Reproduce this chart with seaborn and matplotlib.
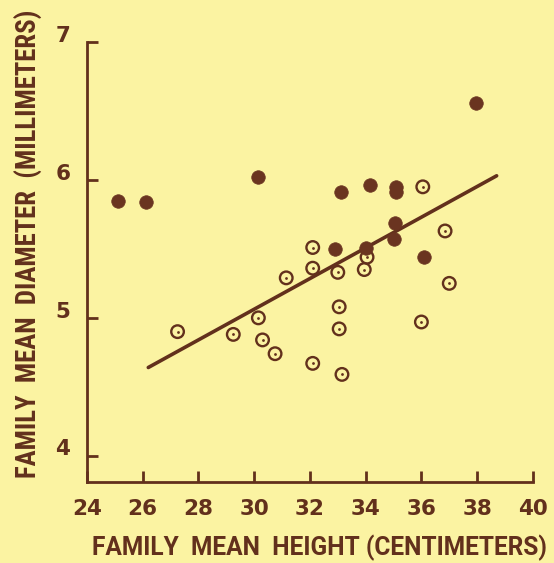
import matplotlib
matplotlib.use("Agg")
import matplotlib.pyplot as plt
import matplotlib.transforms as mtransforms
import seaborn as sns
import pandas as pd

# Family means: filled and open (dotted-circle) families
filled_height = [25.1, 26.1, 30.15, 32.9, 33.1, 34.0, 34.15, 35.0, 35.1, 35.1, 35.05, 36.1, 37.95]
filled_diam = [5.85, 5.84, 6.02, 5.50, 5.91, 5.51, 5.96, 5.57, 5.95, 5.91, 5.69, 5.44, 6.56]

open_height = [27.25, 29.25, 30.15, 30.3, 30.75, 31.15, 32.1, 32.1, 32.1, 33.0,
               33.05, 33.05, 33.15, 33.95, 34.05, 36.0, 36.05, 36.85, 37.0]
open_diam = [4.90, 4.88, 5.00, 4.84, 4.74, 5.29, 5.51, 5.36, 4.67, 5.33,
             5.08, 4.92, 4.59, 5.35, 5.44, 4.97, 5.95, 5.63, 5.25]

# Fitted trend line
trend_height = [26.2, 38.7]
trend_diam = [4.64, 6.03]

x_ticks = [24, 26, 28, 30, 32, 34, 36, 38, 40]
y_ticks = [4, 5, 6, 7]

BG = "#FBF3A2"
INK = "#62301C"
DOT = "#6A3420"

sns.set_style("ticks", {"axes.facecolor": BG, "figure.facecolor": BG})
plt.rcParams["font.family"] = ["Roboto Condensed", "DejaVu Sans"]

fig = plt.figure(figsize=(5.54, 5.63), dpi=100)
ax = fig.add_axes([0.157, 0.1439, 0.830, 0.806])

filled_df = pd.DataFrame({"height": filled_height, "diam": filled_diam})
open_df = pd.DataFrame({"height": open_height, "diam": open_diam})
trend_df = pd.DataFrame({"height": trend_height, "diam": trend_diam})

sns.lineplot(data=trend_df, x="height", y="diam", color=INK, linewidth=2.6,
             ax=ax, zorder=2)
sns.scatterplot(data=open_df, x="height", y="diam", s=82, facecolor="none",
                edgecolor=INK, linewidth=1.7, ax=ax, zorder=3)
sns.scatterplot(data=open_df, x="height", y="diam", s=4, color=INK,
                linewidth=0, ax=ax, zorder=4)
sns.scatterplot(data=filled_df, x="height", y="diam", s=95, color=DOT,
                edgecolor=DOT, linewidth=0.5, ax=ax, zorder=5)

ax.set_xlim(24, 40.5)
ax.set_ylim(3.81, 7.1)
ax.set_xticks(x_ticks)
ax.set_yticks(y_ticks)
ax.set_xticklabels([str(t) for t in x_ticks])
ax.set_yticklabels([str(t) for t in y_ticks])

for side in ("top", "right"):
    ax.spines[side].set_visible(False)
ax.spines["left"].set_bounds(3.81, 7)
ax.spines["bottom"].set_bounds(24, 40)
for side in ("left", "bottom"):
    ax.spines[side].set_color(INK)
    ax.spines[side].set_linewidth(2.0)

ax.tick_params(axis="both", direction="in", length=8, width=2.0, color=INK,
               labelcolor=INK, labelsize=15.5)
ax.tick_params(axis="x", pad=12)
ax.tick_params(axis="y", pad=12)
for lab in ax.get_xticklabels() + ax.get_yticklabels():
    lab.set_fontweight("bold")
    lab.set_fontfamily("DejaVu Sans")
shift = mtransforms.ScaledTranslation(0, 6 / 72, fig.dpi_scale_trans)
for lab in ax.get_yticklabels():
    lab.set_transform(lab.get_transform() + shift)

xlab = ax.set_xlabel("FAMILY  MEAN  HEIGHT (CENTIMETERS)", color=INK,
                     fontsize=17.5, fontweight="bold", family=["Roboto", "DejaVu Sans"])
ylab = ax.set_ylabel("FAMILY  MEAN  DIAMETER  (MILLIMETERS)", color=INK,
                     fontsize=16.5, fontweight="bold")
xlab.set_va("baseline")
ylab.set_va("baseline")
ax.xaxis.set_label_coords(0.505, -0.161)
ax.yaxis.set_label_coords(-0.109, 0.524)

# scale each axis title so it spans the intended length in pixels
fig.canvas.draw()
renderer = fig.canvas.get_renderer()
for lab, target, along in ((xlab, 455.0, "width"), (ylab, 468.0, "height")):
    bb = lab.get_window_extent(renderer)
    cur = bb.width if along == "width" else bb.height
    lab.set_fontsize(lab.get_fontsize() * target / cur)

fig.savefig("out.png", dpi=100, facecolor=BG)
